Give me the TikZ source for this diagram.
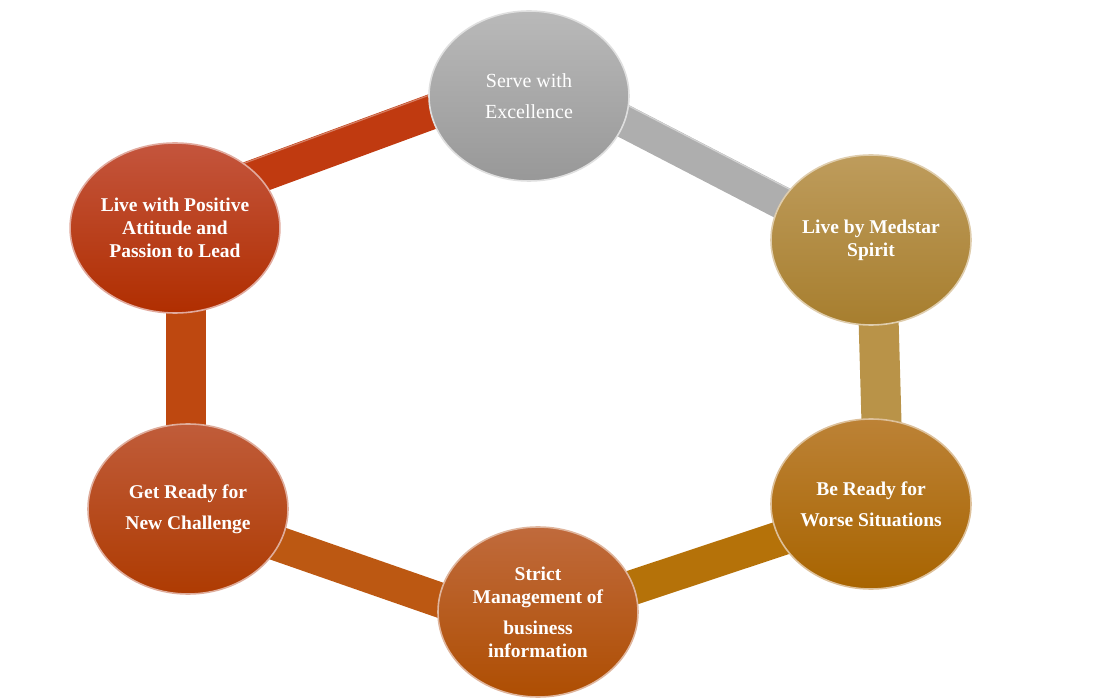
\documentclass[tikz,border=0pt]{standalone}
\usepackage{fontspec}
\setmainfont{Liberation Serif}
\usetikzlibrary{shapes.geometric,calc}
\pgfdeclarelayer{background}
\pgfsetlayers{background,main}
\definecolor{cGrayT}{HTML}{B9B9B9}\definecolor{cGrayB}{HTML}{989898}
\definecolor{cTanT}{HTML}{BE9C5C}\definecolor{cTanB}{HTML}{A77E2E}
\definecolor{cGoldT}{HTML}{BC8236}\definecolor{cGoldB}{HTML}{A86400}
\definecolor{cStrT}{HTML}{C06A3C}\definecolor{cStrB}{HTML}{AE4E02}
\definecolor{cGetT}{HTML}{C05C3A}\definecolor{cGetB}{HTML}{AE3B02}
\definecolor{cPosT}{HTML}{C4553D}\definecolor{cPosB}{HTML}{B02E00}
\definecolor{bRed}{HTML}{C03A10}
\definecolor{bGray}{HTML}{AEAEAE}
\definecolor{bTan}{HTML}{B99348}
\definecolor{bGold}{HTML}{B57209}
\definecolor{bOrange}{HTML}{BC5812}
\definecolor{bRedOr}{HTML}{BE4810}
\tikzset{
  disc/.style={ellipse, minimum width=200pt, minimum height=170pt, inner sep=0pt,
     line width=1.6pt, text=white, align=center},
  bartube/.style={line width=#1, line cap=butt},
  boldtxt/.style={font=\fontsize{19.5}{23}\selectfont\bfseries},
}
\begin{document}
\begin{tikzpicture}[x=1pt,y=-1pt]
\useasboundingbox (0,0) rectangle (1114,700);
\node[disc, draw=white!55!cGrayT, top color=cGrayT, bottom color=cGrayB,
      font=\fontsize{20}{23}\selectfont] (serve) at (529,96) {Serve with\\[8pt]Excellence};
\node[disc, boldtxt, draw=white!50!cTanT, top color=cTanT, bottom color=cTanB] (med) at (871,240) {Live by Medstar\\Spirit};
\node[disc, boldtxt, draw=white!50!cGoldT, top color=cGoldT, bottom color=cGoldB] (worse) at (871,504) {Be Ready for\\[8pt]Worse Situations};
\node[disc, boldtxt, draw=white!50!cStrT, top color=cStrT, bottom color=cStrB] (strict) at (538,612) {Strict\\Management of\\[8pt]business\\information};
\node[disc, boldtxt, draw=white!50!cGetT, top color=cGetT, bottom color=cGetB] (get) at (188,509) {Get Ready for\\[8pt]New Challenge};
\node[disc, boldtxt, draw=white!50!cPosT, top color=cPosT, bottom color=cPosB] (pos) at (175,228) {Live with Positive\\Attitude and\\Passion to Lead};
\begin{pgfonlayer}{background}
\draw[bartube=35pt, bRed] ($(pos)+(25,-31)$) -- ($(serve)+(-49,-2)$);
\draw[bartube=1.2pt, white!35!bRed] ($(pos)+(25,-48.5)$) -- ($(serve)+(-49,-19.5)$);
\draw[bartube=33pt, bGray] ($(serve)+(31,-8)$) -- ($(med)+(-31,-7)$);
\draw[bartube=1.2pt, white!45!bGray] ($(serve)+(38,-22)$) -- ($(med)+(-24,-21)$);
\draw[bartube=40pt, bTan] ($(med)+(7,60)$) -- ($(worse)+(11,-64)$);
\draw[bartube=35pt, bGold] ($(worse)+(-41,18)$) -- ($(strict)+(42,-7)$);
\draw[bartube=35pt, bOrange] ($(strict)+(-38,9)$) -- ($(get)+(42,18)$);
\draw[bartube=40pt, bRedOr] ($(get)+(-2,-69)$) -- ($(pos)+(11,62)$);
\end{pgfonlayer}
\end{tikzpicture}
\end{document}
